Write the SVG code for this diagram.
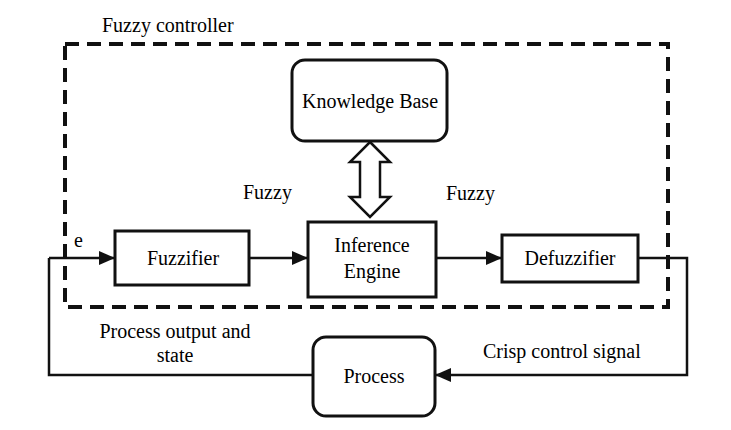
<svg xmlns="http://www.w3.org/2000/svg" width="731" height="430" viewBox="0 0 731 430">
<defs>
<marker id="ah" markerWidth="16" markerHeight="14" refX="15" refY="7" orient="auto" markerUnits="userSpaceOnUse">
<path d="M0,0 L16,7 L0,14 Z" fill="#111"/>
</marker>
</defs>
<rect x="65" y="44" width="603" height="263" fill="none" stroke="#111" stroke-width="4" stroke-dasharray="14 8"/>
<text font-family="Times New Roman" font-size="20" x="102" y="32">Fuzzy controller</text>
<g id="connectors" fill="none" stroke="#111" stroke-width="2.5">
<path d="M49,258 L49,375 L313,375"/>
<path d="M49,258 L114,258" marker-end="url(#ah)"/>
<path d="M249,258 L307,258" marker-end="url(#ah)"/>
<path d="M436,258 L501,258" marker-end="url(#ah)"/>
<path d="M638,258 L687,258 L687,375 L436,375" marker-end="url(#ah)"/>
<path d="M370,142 L390,162 L380,162 L380,197 L390,197 L370,217 L350,197 L360,197 L360,162 L350,162 Z" fill="#fff"/>
</g>
<g id="knowledge">
<rect fill="#fff" stroke="#111" stroke-width="3" x="292" y="60" width="155" height="81" rx="13"/>
<text font-family="Times New Roman" font-size="20" text-anchor="middle" x="370" y="108">Knowledge Base</text>
</g>
<g id="fuzzifier">
<rect fill="#fff" stroke="#111" stroke-width="3" x="115" y="231" width="134" height="54"/>
<text font-family="Times New Roman" font-size="20" text-anchor="middle" x="183" y="265">Fuzzifier</text>
</g>
<g id="inference">
<rect fill="#fff" stroke="#111" stroke-width="3" x="308" y="222" width="128" height="75"/>
<text font-family="Times New Roman" font-size="20" text-anchor="middle" x="372" y="252">Inference</text>
<text font-family="Times New Roman" font-size="20" text-anchor="middle" x="372" y="278">Engine</text>
</g>
<g id="defuzzifier">
<rect fill="#fff" stroke="#111" stroke-width="3" x="502" y="235" width="136" height="47"/>
<text font-family="Times New Roman" font-size="20" text-anchor="middle" x="570" y="265">Defuzzifier</text>
</g>
<g id="process">
<rect fill="#fff" stroke="#111" stroke-width="3" x="313" y="337" width="122" height="79" rx="13"/>
<text font-family="Times New Roman" font-size="20" text-anchor="middle" x="374" y="383">Process</text>
</g>
<text font-family="Times New Roman" font-size="20" x="243" y="199">Fuzzy</text>
<text font-family="Times New Roman" font-size="20" x="446" y="200">Fuzzy</text>
<text font-family="Times New Roman" font-size="20" x="74" y="247">e</text>
<text font-family="Times New Roman" font-size="20" text-anchor="middle" x="175" y="338">Process output and</text>
<text font-family="Times New Roman" font-size="20" text-anchor="middle" x="175" y="362">state</text>
<text font-family="Times New Roman" font-size="20" x="483" y="358">Crisp control signal</text>
</svg>
